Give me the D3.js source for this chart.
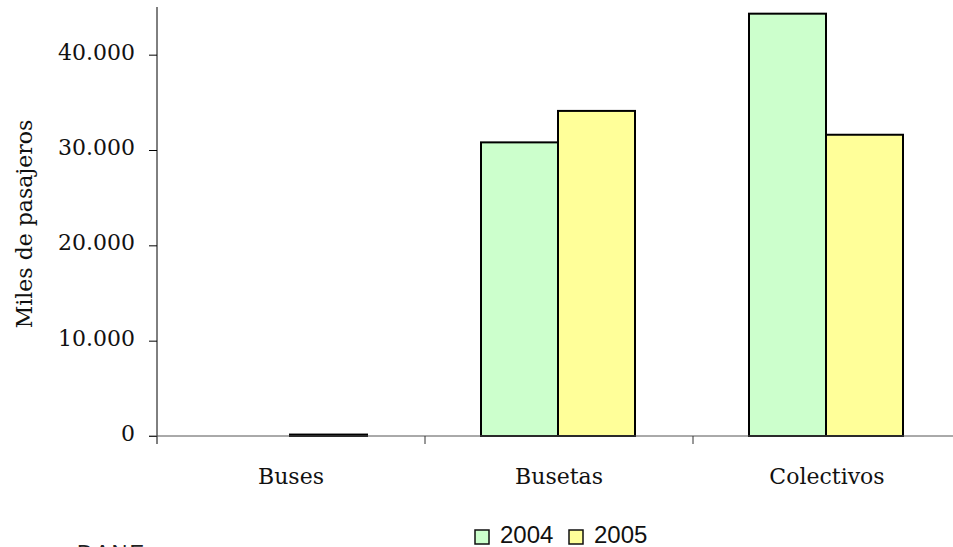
<!DOCTYPE html>
<html>
<head>
<meta charset="utf-8">
<script src="https://cdn.jsdelivr.net/npm/d3@7"></script>
<style>
  body { margin: 0; background: #fff; }
  svg { display: block; }
</style>
</head>
<body>
<div id="chart"></div>
<script>
// data
const categories = ["Buses", "Busetas", "Colectivos"];
const series = ["2004", "2005"];
const values2004 = [null, 30800, 44300];
const values2005 = [150, 34100, 31600];
const yTicks = [0, 10000, 20000, 30000, 40000];
const colors = ["#ccffcc", "#ffff99"];

const svgWidth = 953, svgHeight = 547;
const margin = {top: 7, left: 157, bottom: 111};
const plotHeight = svgHeight - margin.top - margin.bottom; // zero line at 436
const plotWidth = 804;

const fmt = d => d3.format(",")(d).replace(/,/g, ".");

const svg = d3.select("#chart").append("svg")
  .attr("width", svgWidth)
  .attr("height", svgHeight);

const g = svg.append("g")
  .attr("transform", "translate(" + margin.left + "," + margin.top + ")");

const yScale = d3.scaleLinear()
  .domain([0, 45000])
  .range([plotHeight, 0]);

const xScale = d3.scaleBand()
  .domain(categories)
  .range([0, plotWidth])
  .padding(0);

const inner = d3.scaleBand()
  .domain(series)
  .range([56, 210]);

// bars
const rows = categories.map((c, i) => ({cat: c, vals: [values2004[i], values2005[i]]}));
const groups = g.selectAll(".grp")
  .data(rows)
  .enter().append("g")
  .attr("class", "grp")
  .attr("transform", d => "translate(" + xScale(d.cat) + ",0)");

groups.selectAll("rect")
  .data(d => d.vals.map((v, j) => ({s: series[j], v: v, j: j})).filter(d => d.v !== null))
  .enter().append("rect")
  .attr("x", d => inner(d.s))
  .attr("y", d => yScale(d.v))
  .attr("width", inner.bandwidth())
  .attr("height", d => plotHeight - yScale(d.v))
  .attr("fill", d => colors[d.j])
  .attr("stroke", "#000")
  .attr("stroke-width", 2);

// y axis
const yAxis = d3.axisLeft(yScale)
  .tickValues(yTicks)
  .tickSize(8)
  .tickPadding(14)
  .tickFormat(fmt);

const yg = g.append("g").call(yAxis);
yg.select(".domain").remove();
yg.selectAll(".tick line").attr("stroke", "#000");
yg.selectAll("text")
  .attr("dy", "0.2em")
  .attr("fill", "#111")
  .style("font-family", "'DejaVu Serif', serif")
  .style("font-size", "22px");

g.append("line")
  .attr("x1", 0).attr("x2", 0)
  .attr("y1", 0).attr("y2", plotHeight + 8)
  .attr("stroke", "#000");

// x axis
const xAxis = d3.axisBottom(xScale)
  .tickSize(0)
  .tickPadding(32);

const xg = g.append("g")
  .attr("transform", "translate(0," + plotHeight + ")")
  .call(xAxis);
xg.select(".domain").remove();
xg.selectAll("text")
  .attr("fill", "#111")
  .style("font-family", "'DejaVu Serif', serif")
  .style("font-size", "22px");

g.append("line")
  .attr("x1", -8).attr("x2", plotWidth)
  .attr("y1", plotHeight).attr("y2", plotHeight)
  .attr("stroke", "#555");

g.selectAll(".xtick")
  .data(categories.slice(1).concat(["end"]))
  .enter().append("line")
  .attr("class", "xtick")
  .attr("x1", (d, i) => (i + 1) * xScale.bandwidth())
  .attr("x2", (d, i) => (i + 1) * xScale.bandwidth())
  .attr("y1", plotHeight).attr("y2", plotHeight + 8)
  .attr("stroke", "#333");

// y label
svg.append("text")
  .attr("transform", "translate(32,224) rotate(-90)")
  .attr("text-anchor", "middle")
  .attr("fill", "#111")
  .style("font-family", "'DejaVu Serif', serif")
  .style("font-size", "22px")
  .text("Miles de pasajeros");

// legend
const legend = svg.append("g").attr("transform", "translate(475,530)");
const item = legend.selectAll(".item")
  .data(series)
  .enter().append("g")
  .attr("transform", (d, i) => "translate(" + (i * 94) + ",0)");
item.append("rect")
  .attr("width", 14).attr("height", 14)
  .attr("fill", (d, i) => colors[i])
  .attr("stroke", "#111")
  .attr("stroke-width", 1.5);
item.append("text")
  .attr("x", 25)
  .attr("y", 13)
  .attr("fill", "#111")
  .style("font-family", "'Liberation Sans', Arial, sans-serif")
  .style("font-size", "24px")
  .text(d => d);

// source note, cut by the bottom edge
svg.append("text")
  .attr("x", 77)
  .attr("y", 560)
  .attr("fill", "#222")
  .style("font-family", "'Liberation Sans', Arial, sans-serif")
  .style("font-size", "22px")
  .style("letter-spacing", "2px")
  .text("DANE");
</script>
</body>
</html>
